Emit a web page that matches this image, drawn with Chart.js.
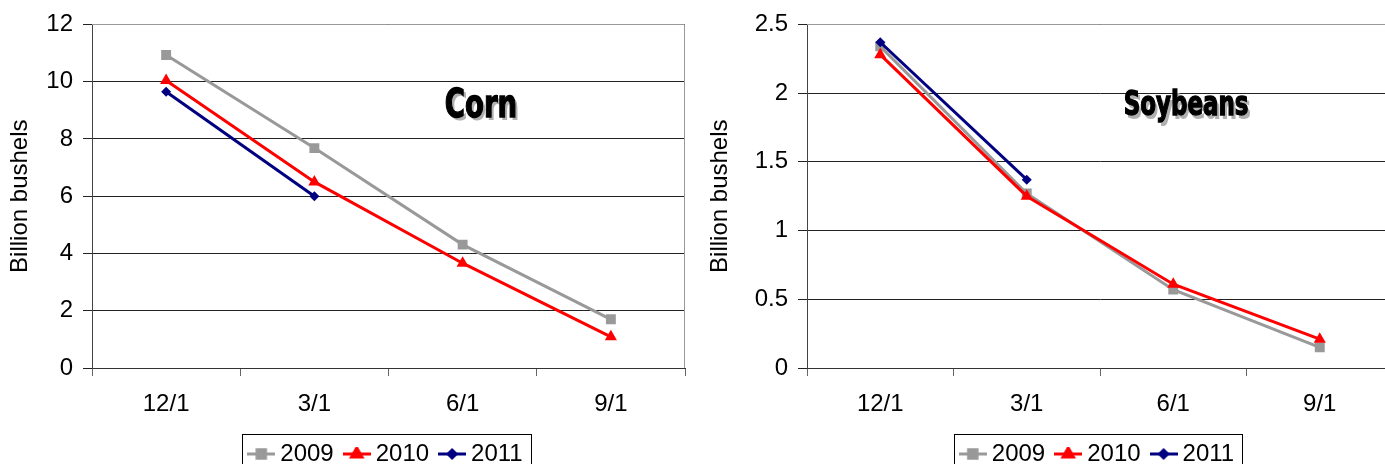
<html>
<head>
<script src="https://cdn.jsdelivr.net/npm/chart.js"></script>
<style>
  body { margin: 0; background: #fff; }
  #wrap { position: relative; width: 1385px; height: 464px; overflow: hidden; }
  .box { position: absolute; top: 0; width: 700px; height: 476px; }
</style>
</head>
<body>
<div id="wrap">
  <div class="box" style="left:0"><canvas id="corn"></canvas></div>
  <div class="box" style="left:700px"><canvas id="soy"></canvas></div>
</div>
<script>
// categories
const months = ['12/1', '3/1', '6/1', '9/1'];
const years = ['2009', '2010', '2011'];

// corn stocks, billion bushels
const corn2009 = [10.93, 7.68, 4.31, 1.70];
const corn2010 = [10.04, 6.50, 3.66, 1.09];
const corn2011 = [9.65, 6.00, null, null];

// soybean stocks, billion bushels
const soy2009 = [2.34, 1.27, 0.57, 0.15];
const soy2010 = [2.28, 1.25, 0.61, 0.21];
const soy2011 = [2.37, 1.37, null, null];

const colors = ['#999999', '#ff0000', '#000080'];
const markers = ['rect', 'triangle', 'rectRot'];
const radii = [7, 7, 5];

Chart.defaults.font.family = '"Liberation Sans", Arial, sans-serif';
Chart.defaults.color = '#000';

// little line+marker picture for the legend
function legendIcon(i) {
  const c = document.createElement('canvas');
  c.width = 28; c.height = 14;
  const g = c.getContext('2d');
  g.strokeStyle = colors[i]; g.lineWidth = 3;
  g.beginPath(); g.moveTo(0, 7); g.lineTo(28, 7); g.stroke();
  g.fillStyle = colors[i];
  g.strokeStyle = colors[i];
  Chart.helpers.drawPoint(g, {pointStyle: markers[i], radius: radii[i] - 1, borderWidth: 1}, 14, 7);
  return c;
}
const icons = years.map((y, i) => legendIcon(i));

const frame = {
  id: 'frame',
  beforeDatasetsDraw(chart) {
    const a = chart.chartArea, g = chart.ctx;
    g.save();
    g.strokeStyle = '#999'; g.lineWidth = 1;
    g.beginPath();
    g.moveTo(a.left, Math.round(a.top) + 0.5);
    g.lineTo(Math.round(a.right) - 0.5, Math.round(a.top) + 0.5);
    g.lineTo(Math.round(a.right) - 0.5, a.bottom);
    g.stroke();
    g.restore();
  },
  afterDraw(chart, args, opts) {
    const g = chart.ctx, a = chart.chartArea;
    // crop title
    g.save();
    g.font = 'bold ' + opts.size + 'px "Liberation Sans Narrow", "DejaVu Sans Condensed", sans-serif';
    g.textAlign = 'center'; g.textBaseline = 'middle';
    const x = a.left + opts.fx * (a.right - a.left);
    const y = a.top + opts.fy * (a.bottom - a.top);
    g.translate(x, y); g.scale(0.85, 1.1);
    g.fillStyle = '#b0b0b0';
    g.fillText(opts.text, 3, 3);
    g.fillStyle = '#000';
    g.lineWidth = 1.2; g.strokeStyle = '#000';
    g.strokeText(opts.text, 0, 0);
    g.fillText(opts.text, 0, 0);
    g.restore();
    // legend border
    const hb = chart.legend.legendHitBoxes;
    if (hb && hb.length) {
      const last = hb[hb.length - 1];
      const l = Math.round(hb[0].left - 12) + 0.5;
      const r = Math.round(last.left + last.width + 8) + 0.5;
      const t = Math.round(hb[0].top - 8) + 0.5;
      g.save();
      g.strokeStyle = '#000'; g.lineWidth = 1;
      g.strokeRect(l, t, r - l, 60);
      g.restore();
    }
  }
};

function makeChart(id, series, yMax, yStep, axisWidth, padRight, title) {
  new Chart(document.getElementById(id), {
    type: 'line',
    data: {
      labels: months,
      datasets: years.map((y, i) => ({
        label: y,
        data: series[i],
        borderColor: colors[i],
        backgroundColor: colors[i],
        borderWidth: 3,
        pointStyle: markers[i],
        pointRadius: radii[i],
        pointHoverRadius: radii[i],
        pointBorderWidth: 0,
        tension: 0,
        order: 3 - i
      }))
    },
    plugins: [frame],
    options: {
      responsive: true,
      maintainAspectRatio: false,
      animation: false,
      layout: { padding: { top: 21, right: padRight, left: 0, bottom: 0 } },
      scales: {
        x: {
          offset: true,
          grid: { offset: true, drawOnChartArea: false, tickLength: 8, color: '#666' },
          border: { color: '#333' },
          ticks: { font: { size: 24 }, padding: 14, maxRotation: 0 },
          afterFit: s => { s.height = 58; }
        },
        y: {
          min: 0, max: yMax,
          ticks: { stepSize: yStep, font: { size: 24 }, padding: 10, callback: v => String(v) },
          grid: { color: '#222', tickLength: 9 },
          border: { color: '#444' },
          title: { display: true, text: 'Billion bushels', font: { size: 24 }, padding: { top: 6, bottom: 0 } },
          afterFit: s => { s.width = axisWidth; }
        }
      },
      plugins: {
        tooltip: { enabled: false },
        frame: title,
        legend: {
          position: 'bottom',
          fullSize: false,
          labels: {
            usePointStyle: true,
            pointStyleWidth: 14,
            padding: 16,
            font: { size: 24 },
            sort: (a, b) => a.datasetIndex - b.datasetIndex,
            generateLabels: chart => {
              const items = Chart.defaults.plugins.legend.labels.generateLabels(chart);
              items.forEach(it => { it.pointStyle = icons[it.datasetIndex]; });
              return items;
            }
          }
        }
      }
    }
  });
}

makeChart('corn', [corn2009, corn2010, corn2011], 12, 2, 92, 15,
  { text: 'Corn', size: 36, fx: 0.656, fy: 0.24 });
makeChart('soy', [soy2009, soy2010, soy2011], 2.5, 0.5, 107, 7,
  { text: 'Soybeans', size: 30, fx: 0.647, fy: 0.24 });
</script>
</body>
</html>
